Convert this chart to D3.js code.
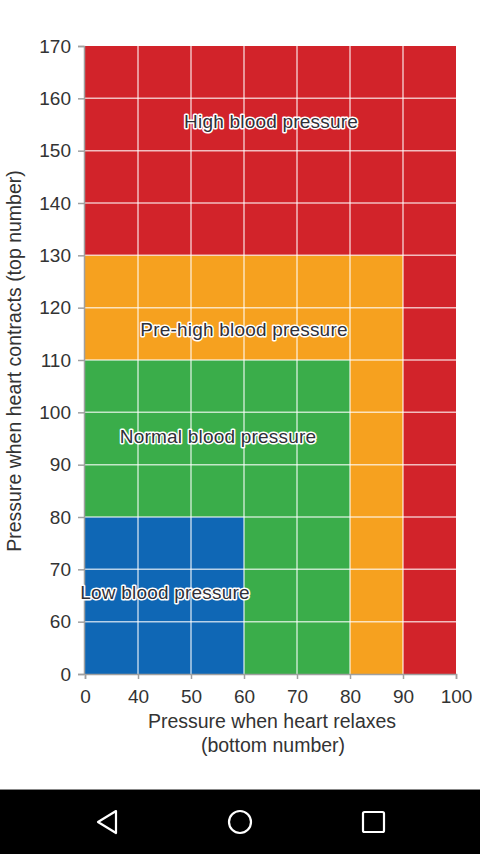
<!DOCTYPE html>
<html><head><meta charset="utf-8">
<script src="https://cdn.jsdelivr.net/npm/d3@7"></script>
<style>
html,body{margin:0;padding:0;background:#fff;}
svg{display:block;font-family:"Liberation Sans",Arial,sans-serif;}
</style></head>
<body>
<svg id="chart" width="480" height="854"></svg>
<script>
// x tick labels (bottom number), y tick labels (top number)
const xTicks = ["0","40","50","60","70","80","90","100"];
const yTicks = ["0","60","70","80","90","100","110","120","130","140","150","160","170"];
// zones: upper-right corner of each zone (drawn from largest to smallest)
const zoneNames = ["High blood pressure","Pre-high blood pressure","Normal blood pressure","Low blood pressure"];
const zoneXMax = ["100","90","80","60"];
const zoneYMax = ["170","130","110","80"];
const zoneColors = ["#d2232a","#f6a11f","#3aad4a","#0f67b5"];
// label anchor positions in data terms
const labelX = [65.1, 60, 55.1, 45.1];
const labelY = [155.6, 115.8, 95.5, 65.6];

const svg = d3.select("#chart");
const pLeft = 85, pRight = 456, pTop = 46, pBottom = 674;
const x = d3.scalePoint().domain(xTicks).range([pLeft, pRight]);
const y = d3.scalePoint().domain(yTicks).range([pBottom, pTop]);
// numeric helpers to place labels between tick positions
const xNum = d3.scaleLinear().domain(xTicks.map(Number)).range(xTicks.map(t=>x(t)));
const yNum = d3.scaleLinear().domain(yTicks.map(Number)).range(yTicks.map(t=>y(t)));

const g = svg.append("g");
g.selectAll("rect.zone").data(zoneNames).enter().append("rect")
  .attr("class","zone")
  .attr("x", x("0"))
  .attr("y", (d,i)=>y(zoneYMax[i]))
  .attr("width", (d,i)=>x(zoneXMax[i]) - x("0"))
  .attr("height", (d,i)=>y("0") - y(zoneYMax[i]))
  .attr("fill", (d,i)=>zoneColors[i]);

// grid lines
g.selectAll("line.vg").data(xTicks.slice(1,-1)).enter().append("line")
  .attr("x1", d=>x(d)).attr("x2", d=>x(d)).attr("y1", pTop).attr("y2", pBottom)
  .attr("stroke","#ffffff").attr("stroke-opacity",0.7).attr("stroke-width",1.5);
g.selectAll("line.hg").data(yTicks.slice(1,-1)).enter().append("line")
  .attr("y1", d=>y(d)).attr("y2", d=>y(d)).attr("x1", pLeft).attr("x2", pRight)
  .attr("stroke","#ffffff").attr("stroke-opacity",0.7).attr("stroke-width",1.5);

// axes
const xAxis = d3.axisBottom(x).tickSize(5).tickPadding(11);
const yAxis = d3.axisLeft(y).tickSize(6).tickPadding(7);
const gx = svg.append("g").attr("transform",`translate(0,${pBottom})`).call(xAxis);
const gy = svg.append("g").attr("transform",`translate(${pLeft-1},0)`).call(yAxis);
[gx,gy].forEach(a=>{
  a.attr("font-size",null).attr("font-family",null);
  a.select(".domain").attr("stroke","#a0a0a0").attr("stroke-width",1.5);
  a.selectAll(".tick line").attr("stroke","#a0a0a0").attr("stroke-width",1.5);
  a.selectAll(".tick text").attr("fill","#333").style("font-size","19px");
});

// zone labels (dark text with white halo)
const labels = svg.append("g");
labels.selectAll("text").data(zoneNames).enter().append("text")
  .attr("x",(d,i)=>xNum(labelX[i]))
  .attr("y",(d,i)=>yNum(labelY[i]))
  .attr("text-anchor","middle")
  .attr("dy","0.35em")
  .style("font-size","19px")
  .style("letter-spacing","0.2px")
  .attr("fill","#2f3038")
  .attr("stroke","#ffffff").attr("stroke-width",3).attr("stroke-linejoin","round")
  .attr("paint-order","stroke")
  .text(d=>d);

// axis titles
svg.append("text")
  .attr("transform",`translate(21,${361}) rotate(-90)`)
  .attr("text-anchor","middle").attr("fill","#333").style("font-size","19.5px")
  .text("Pressure when heart contracts (top number)");
svg.append("text").attr("x",272).attr("y",728).attr("text-anchor","middle")
  .attr("fill","#333").style("font-size","19.5px").text("Pressure when heart relaxes");
svg.append("text").attr("x",273).attr("y",752).attr("text-anchor","middle")
  .attr("fill","#333").style("font-size","19.5px").text("(bottom number)");

// Android navigation bar
svg.append("rect").attr("x",0).attr("y",790).attr("width",480).attr("height",64).attr("fill","#000");
svg.append("line").attr("x1",0).attr("x2",480).attr("y1",789.5).attr("y2",789.5).attr("stroke","#888").attr("stroke-width",1);
svg.append("path").attr("d","M116,811 L98,822 L116,833 Z").attr("fill","none").attr("stroke","#fff").attr("stroke-width",2.2).attr("stroke-linejoin","round");
svg.append("circle").attr("cx",240).attr("cy",822).attr("r",11).attr("fill","none").attr("stroke","#fff").attr("stroke-width",2.2);
svg.append("rect").attr("x",363).attr("y",812).attr("width",21).attr("height",20).attr("rx",1.5).attr("fill","none").attr("stroke","#fff").attr("stroke-width",2.2);
</script>
</body></html>
